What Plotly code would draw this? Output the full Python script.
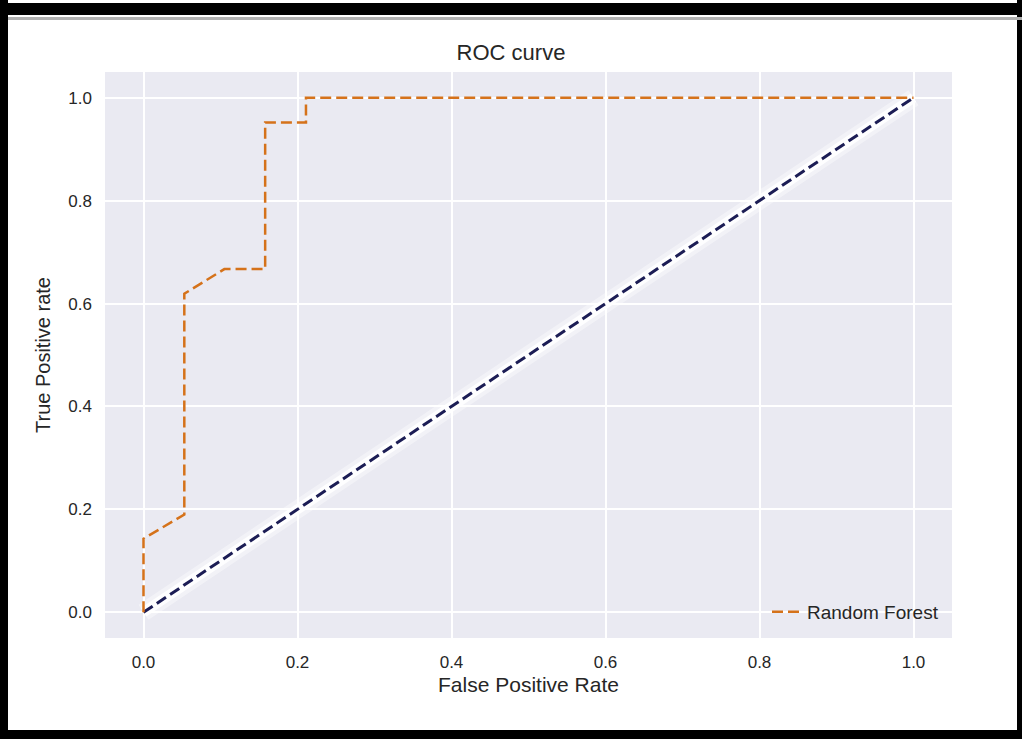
import plotly.graph_objects as go

fpr = [0.0, 0.0, 0.053, 0.053, 0.105, 0.158, 0.158, 0.211, 0.211, 1.0]
tpr = [0.0, 0.143, 0.19, 0.619, 0.667, 0.667, 0.952, 0.952, 1.0, 1.0]
diag = [0.0, 1.0]
ticks = [0.0, 0.2, 0.4, 0.6, 0.8, 1.0]
tick_text = ["0.0", "0.2", "0.4", "0.6", "0.8", "1.0"]

W, H = 1022, 739
L, R, T, B = 105, 952, 72, 638

def px(x):
    return (x - L) / (R - L)

def py(y):
    return (B - y) / (B - T)

fig = go.Figure()
# glow under diagonal
fig.add_trace(go.Scatter(x=diag, y=diag, mode="lines", showlegend=False, hoverinfo="skip",
                         line=dict(color="rgba(255,255,255,0.4)", width=18)))
fig.add_trace(go.Scatter(x=diag, y=diag, mode="lines", showlegend=False, hoverinfo="skip",
                         line=dict(color="rgba(255,255,255,0.9)", width=10)))
fig.add_trace(go.Scatter(x=diag, y=diag, mode="lines", showlegend=False,
                         line=dict(color="#1c1d55", width=3, dash="11px,5px")))
fig.add_trace(go.Scatter(x=fpr, y=tpr, mode="lines", name="Random Forest",
                         line=dict(color="#d5721a", width=2.5, dash="11px,5px")))

font = "Liberation Sans, Arial, sans-serif"
shapes = []
def rect(x0, y0, x1, y1, color):
    shapes.append(dict(type="rect", xref="paper", yref="paper",
                       x0=px(x0), x1=px(x1), y0=py(y1), y1=py(y0),
                       fillcolor=color, line=dict(width=0), layer="above"))
rect(0, 3, W, 15, "black")
rect(0, 0, 8, H, "black")
rect(1017, 0, W, H, "black")
rect(0, 730, W, H, "black")
rect(8, 17, 1022, 20, "#b0b0b0")

fig.update_layout(
    width=W, height=H,
    margin=dict(l=L, r=W - R, t=T, b=H - B),
    paper_bgcolor="white", plot_bgcolor="#EAEAF2",
    font=dict(family=font, color="#262626"),
    title=dict(text="ROC curve", x=0.5, xanchor="center", y=1 - 52 / H, yanchor="middle",
               font=dict(size=22, color="#262626")),
    xaxis=dict(range=[-0.05, 1.05], tickvals=ticks, ticktext=tick_text, showgrid=True,
               gridcolor="white", gridwidth=1.5, zeroline=False, showline=False, ticks="",
               ticklabelstandoff=12,
               tickfont=dict(size=17), title=dict(text="False Positive Rate", font=dict(size=21), standoff=6)),
    yaxis=dict(range=[-0.05, 1.05], tickvals=ticks, ticktext=tick_text, showgrid=True,
               gridcolor="white", gridwidth=1.5, zeroline=False, showline=False, ticks="",
               ticklabelstandoff=12,
               tickfont=dict(size=17), title=dict(text="True Positive rate", font=dict(size=20), standoff=12)),
    legend=dict(x=px(944), xanchor="right", y=py(612), yanchor="middle",
                bgcolor="rgba(0,0,0,0)", font=dict(size=19)),
    shapes=shapes,
)
fig.write_html("out.html", config={"displayModeBar": False},
               post_script="document.body.style.margin='0';document.body.style.overflow='hidden';")
